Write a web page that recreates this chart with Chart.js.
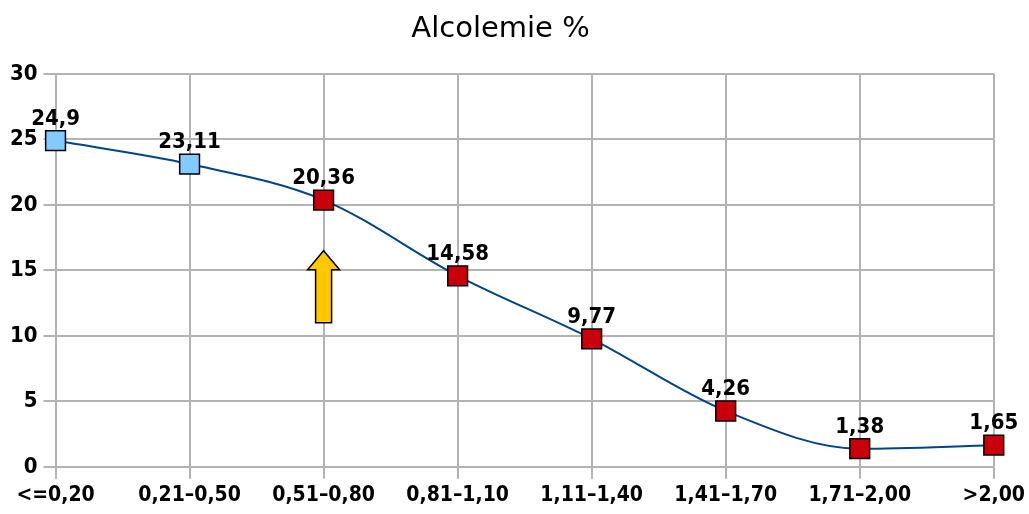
<!DOCTYPE html>
<html>
<head>
<meta charset="utf-8">
<script src="https://cdn.jsdelivr.net/npm/chart.js@4"></script>
<style>
  html, body { margin: 0; padding: 0; background: #fff; }
  #wrap { width: 1029px; height: 514px; }
</style>
</head>
<body>
<div id="wrap"><canvas id="chart" width="1029" height="514"></canvas></div>
<script>
const CATEGORIES = ["<=0,20", "0,21–0,50", "0,51–0,80", "0,81–1,10", "1,11–1,40", "1,41–1,70", "1,71–2,00", ">2,00"];
const VALUES = [24.9, 23.11, 20.36, 14.58, 9.77, 4.26, 1.38, 1.65];
const Y_TICKS = [0, 5, 10, 15, 20, 25, 30];

const LINE_BLUE = "#004586";
const LIGHT_BLUE = "#83caff";
const RED = "#c9000b";
const GRID = "#b3b3b3";
const LABEL_FONT = "'DejaVu Sans Condensed', 'DejaVu Sans', sans-serif";

// arrow marker under the 0,51–0,80 point
const ARROW = { index: 2, from: 11, to: 16.5 };

const fmt = (v) => String(v).replace(".", ",");

const valueLabels = {
  id: "valueLabels",
  afterDatasetsDraw(chart) {
    const ctx = chart.ctx;
    const meta = chart.getDatasetMeta(0);
    ctx.save();
    ctx.font = "bold 22px " + LABEL_FONT;
    ctx.fillStyle = "#000";
    ctx.textAlign = "center";
    ctx.textBaseline = "alphabetic";
    meta.data.forEach((pt, i) => {
      ctx.fillText(fmt(VALUES[i]), pt.x, pt.y - 16);
    });
    ctx.restore();
  },
};

const arrowMark = {
  id: "arrowMark",
  afterDatasetsDraw(chart) {
    const { ctx, scales } = chart;
    const x = scales.x.getPixelForValue(ARROW.index);
    const yTop = scales.y.getPixelForValue(ARROW.to);
    const yBot = scales.y.getPixelForValue(ARROW.from);
    const shaft = 8, head = 16, headH = 19;
    ctx.save();
    ctx.beginPath();
    ctx.moveTo(x - shaft, yBot);
    ctx.lineTo(x - shaft, yTop + headH);
    ctx.lineTo(x - head, yTop + headH);
    ctx.lineTo(x, yTop);
    ctx.lineTo(x + head, yTop + headH);
    ctx.lineTo(x + shaft, yTop + headH);
    ctx.lineTo(x + shaft, yBot);
    ctx.closePath();
    ctx.fillStyle = "#ffc800";
    ctx.fill();
    ctx.lineWidth = 1.5;
    ctx.strokeStyle = "#000";
    ctx.stroke();
    ctx.restore();
  },
};

new Chart(document.getElementById("chart"), {
  type: "line",
  data: {
    labels: CATEGORIES,
    datasets: [{
      label: "Alcolemie %",
      data: VALUES,
      borderColor: LINE_BLUE,
      borderWidth: 2,
      cubicInterpolationMode: "monotone",
      pointStyle: "rect",
      pointRadius: 14,
      pointHoverRadius: 14,
      pointBorderColor: "#000",
      pointBorderWidth: 1.5,
      pointBackgroundColor: VALUES.map((v, i) => (i < 2 ? LIGHT_BLUE : RED)),
    }],
  },
  options: {
    responsive: false,
    animation: false,
    layout: { padding: { left: 4, right: 32, top: 0, bottom: 2 } },
    plugins: {
      legend: { display: false },
      tooltip: { enabled: false },
      title: {
        display: true,
        text: "Alcolemie %",
        color: "#000",
        font: { family: "'DejaVu Sans', sans-serif", size: 29, weight: "normal" },
        padding: { top: 12, bottom: 27 },
      },
    },
    scales: {
      x: {
        offset: false,
        grid: { color: GRID, lineWidth: 2, tickLength: 12, drawTicks: true },
        border: { color: GRID, width: 2 },
        ticks: {
          color: "#000",
          maxRotation: 0,
          autoSkip: false,
          padding: 4,
          font: { family: LABEL_FONT, size: 21, weight: "bold" },
        },
      },
      y: {
        min: 0,
        max: 30,
        afterBuildTicks: (axis) => { axis.ticks = Y_TICKS.map((v) => ({ value: v })); },
        grid: { color: GRID, lineWidth: 2, tickLength: 12 },
        border: { color: GRID, width: 2 },
        ticks: {
          color: "#000",
          padding: 6,
          font: { family: LABEL_FONT, size: 22, weight: "bold" },
        },
      },
    },
  },
  plugins: [valueLabels, arrowMark],
});
</script>
</body>
</html>
